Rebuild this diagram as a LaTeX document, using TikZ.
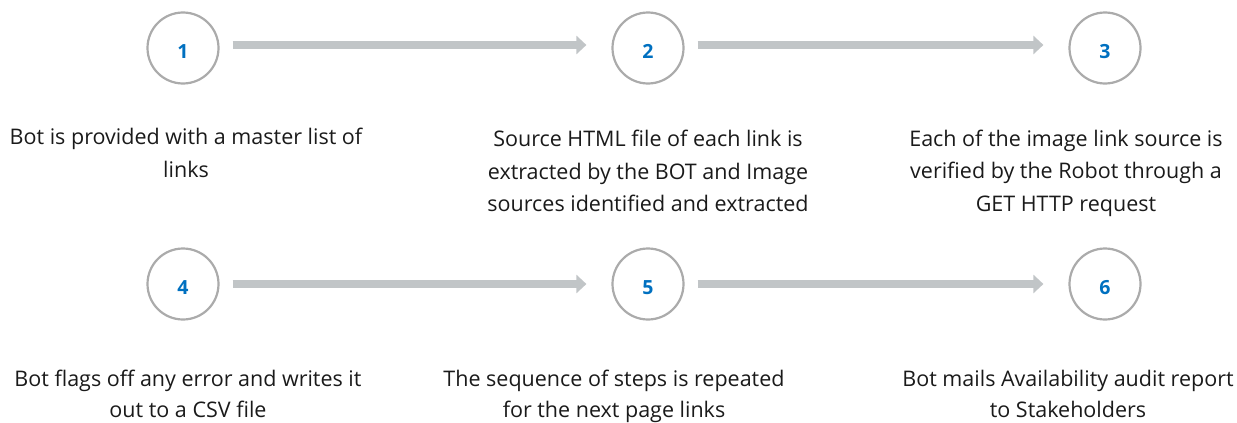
\documentclass[tikz,border=0pt]{standalone}
\usepackage{fontspec}
\setmainfont{Open Sans}
\usetikzlibrary{arrows.meta}
\definecolor{ringgray}{HTML}{ABABAB}
\definecolor{numblue}{HTML}{0070C0}
\definecolor{arrowgray}{HTML}{C1C5C7}
\definecolor{txt}{HTML}{1A1A1A}
\tikzset{
  stepcircle/.style={circle, draw=ringgray, line width=2.2pt, minimum size=71pt, inner sep=0pt,
    font=\fontsize{19.5}{21}\selectfont\bfseries, text=numblue, text height=20pt, text depth=0pt},
  flowarrow/.style={draw=arrowgray, line width=8.5pt, shorten <=13pt, shorten >=25pt,
    -{Triangle[length=10pt,width=18pt]}},
  desc/.style={align=center, text=txt, font=\fontsize{21.5}{32.5}\selectfont, inner sep=0pt, anchor=base}
}
\begin{document}
\begin{tikzpicture}[x=1pt,y=-1pt]
\useasboundingbox (0,0) rectangle (1237,423);
\node[stepcircle] (c1) at (183,48) {1};
\node[stepcircle] (c2) at (648,48) {2};
\node[stepcircle] (c3) at (1105,48) {3};
\node[stepcircle] (c4) at (183,284) {4};
\node[stepcircle] (c5) at (648,284) {5};
\node[stepcircle] (c6) at (1105,284) {6};
\draw[flowarrow] ([yshift=3pt]c1.east) -- ([yshift=3pt]c2.west);
\draw[flowarrow] ([yshift=3pt]c2.east) -- ([yshift=3pt]c3.west);
\draw[flowarrow] ([yshift=0pt]c4.east) -- ([yshift=0pt]c5.west);
\draw[flowarrow] ([yshift=0pt]c5.east) -- ([yshift=0pt]c6.west);
\node[desc] (t1) at (186,177) {Bot is provided with a master list of\\links};
\node[desc] (t2) at (648,211.5) {Source HTML file of each link is\\extracted by the BOT and Image\\sources identified and extracted};
\node[desc] (t3) at (1066,211) {Each of the image link source is\\verified by the Robot through a\\GET HTTP request};
\node[desc,font=\fontsize{21.5}{31}\selectfont] (t4) at (188,417) {Bot flags off any error and writes it\\out to a CSV file};
\node[desc,font=\fontsize{21.5}{31}\selectfont] (t5) at (614,417) {The sequence of steps is repeated\\for the next page links};
\node[desc,font=\fontsize{21.5}{31}\selectfont] (t6) at (1068,417) {Bot mails Availability audit report\\to Stakeholders};
\end{tikzpicture}
\end{document}
